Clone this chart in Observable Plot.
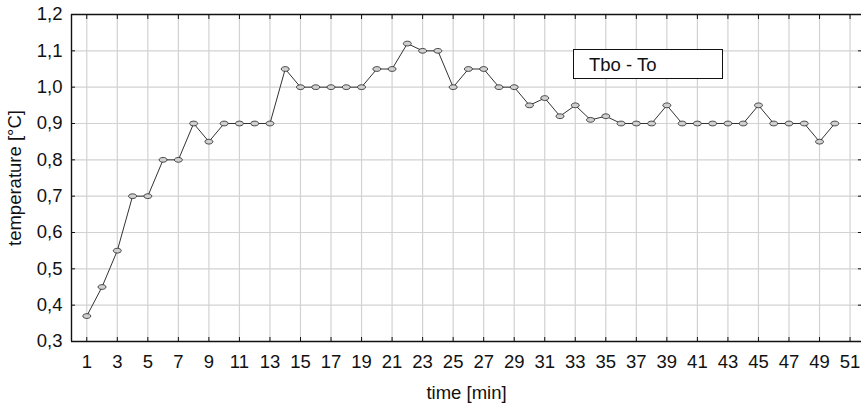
<!DOCTYPE html>
<html>
<head>
<meta charset="utf-8">
<script src="https://cdn.jsdelivr.net/npm/d3@7"></script>
<script src="https://cdn.jsdelivr.net/npm/@observablehq/plot@0.6"></script>
<style>
  html, body { margin: 0; padding: 0; background: #fff; }
  #wrap { position: relative; width: 861px; height: 405px; overflow: hidden; font-family: "Liberation Sans", Arial, sans-serif; }
  #legend { position: absolute; left: 573px; top: 49px; width: 150px; height: 30px; border: 1.3px solid #111; background: #fff;
            font-size: 18.5px; line-height: 29px; padding-left: 15px; box-sizing: border-box; color: #111; }
</style>
</head>
<body>
<div id="wrap"></div>
<script>
const minutes = d3.range(1, 51);
const tboMinusTo = [
  0.37, 0.45, 0.55, 0.70, 0.70, 0.80, 0.80, 0.90, 0.85, 0.90,
  0.90, 0.90, 0.90, 1.05, 1.00, 1.00, 1.00, 1.00, 1.00, 1.05,
  1.05, 1.12, 1.10, 1.10, 1.00, 1.05, 1.05, 1.00, 1.00, 0.95,
  0.97, 0.92, 0.95, 0.91, 0.92, 0.90, 0.90, 0.90, 0.95, 0.90,
  0.90, 0.90, 0.90, 0.90, 0.95, 0.90, 0.90, 0.90, 0.85, 0.90
];
const xTicks = d3.range(1, 52, 2);
const yTicks = [0.3, 0.4, 0.5, 0.6, 0.7, 0.8, 0.9, 1.0, 1.1, 1.2];
const seriesName = "Tbo - To";
const xLabel = "time [min]";
const yLabel = "temperature [°C]";

const data = minutes.map((m, i) => ({minute: m, value: tboMinusTo[i]}));

const ellipse = {
  draw(ctx) {
    const rx = 4, ry = 2.4, k = 0.5523;
    ctx.moveTo(rx, 0);
    ctx.bezierCurveTo(rx, ry * k, rx * k, ry, 0, ry);
    ctx.bezierCurveTo(-rx * k, ry, -rx, ry * k, -rx, 0);
    ctx.bezierCurveTo(-rx, -ry * k, -rx * k, -ry, 0, -ry);
    ctx.bezierCurveTo(rx * k, -ry, rx, -ry * k, rx, 0);
    ctx.closePath();
  }
};

const fmt = d => d.toFixed(1).replace(".", ",");
const fs = 18.5;

const chart = Plot.plot({
  width: 861,
  height: 405,
  marginLeft: 71,
  marginRight: 0,
  marginTop: 14,
  marginBottom: 64,
  style: {fontFamily: "'Liberation Sans', Arial, sans-serif", fontSize: fs + "px", color: "#111", background: "#fff"},
  x: {domain: [0, 51.75]},
  y: {domain: [0.3, 1.2]},
  marks: [
    Plot.ruleX(xTicks, {stroke: "#d2d2d2", strokeWidth: 1.2}),
    Plot.ruleY(yTicks, {stroke: "#d2d2d2", strokeWidth: 1.2}),
    // tick labels
    Plot.axisX({ticks: xTicks, anchor: "bottom", tickSize: 0, tickPadding: 13, fontSize: fs, label: xLabel, labelAnchor: "center", labelArrow: "none", labelOffset: 57}),
    Plot.axisY({ticks: yTicks, anchor: "left", tickSize: 0, tickPadding: 9, fontSize: fs, tickFormat: fmt, label: yLabel, labelAnchor: "center", labelArrow: "none", labelOffset: 64}),
    // inward tick marks
    Plot.axisX({ticks: xTicks, anchor: "bottom", tickSize: -4, tickFormat: () => "", label: null, stroke: "#111"}),
    Plot.axisX({ticks: xTicks, anchor: "top", tickSize: -4, tickFormat: () => "", label: null, stroke: "#111"}),
    Plot.axisY({ticks: yTicks, anchor: "left", tickSize: -4, tickFormat: () => "", label: null, stroke: "#111"}),
    Plot.axisY({ticks: yTicks, anchor: "right", tickSize: -4, tickFormat: () => "", label: null, stroke: "#111"}),
    // frame lines
    Plot.ruleX([0], {stroke: "#111", strokeWidth: 1.4}),
    Plot.ruleY([0.3], {stroke: "#111", strokeWidth: 1.4}),
    Plot.ruleY([1.2], {stroke: "#111", strokeWidth: 1.4}),
    // data
    Plot.line(data, {x: "minute", y: "value", stroke: "#333", strokeWidth: 1}),
    Plot.dot(data, {x: "minute", y: "value", symbol: ellipse, fill: "#cfcfcf", stroke: "#222", strokeWidth: 0.8})
  ]
});

const wrap = document.getElementById("wrap");
wrap.appendChild(chart);
const legend = document.createElement("div");
legend.id = "legend";
legend.textContent = seriesName;
wrap.appendChild(legend);
</script>
</body>
</html>
